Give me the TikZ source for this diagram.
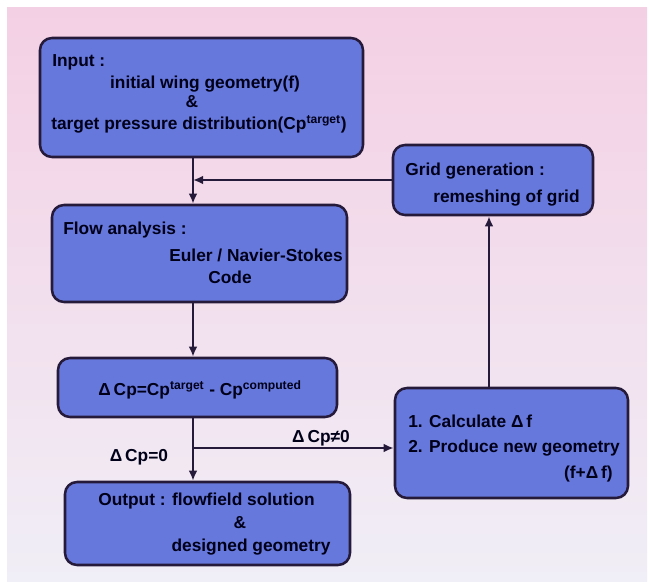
\documentclass[tikz,border=0pt]{standalone}
\usepackage{fontspec}
\setmainfont{Liberation Sans}
\usetikzlibrary{positioning,arrows.meta}
\definecolor{paper}{RGB}{244,208,228}
\definecolor{papermid}{RGB}{243,218,234}
\definecolor{paperlow}{RGB}{240,238,246}
\definecolor{boxblue}{RGB}{102,120,220}
\definecolor{boxline}{RGB}{38,26,58}

\begin{document}
\begin{tikzpicture}[x=0.75pt, y=-0.75pt,
  box/.style={draw=boxline, line width=1.9pt, fill=boxblue, rounded corners=9pt},
  txt/.style={font=\bfseries\fontsize{13}{15}\selectfont, inner sep=0pt, text=black!90!blue},
  link/.style={draw=boxline, line width=1.7pt, -{Latex[length=7.5pt,width=6.5pt]}},
  >=Latex
]
\useasboundingbox (0,0) rectangle (667,585);
\fill[white] (0,0) rectangle (667,585);
\shade[top color=paper, middle color=papermid, bottom color=paperlow] (7,8) rectangle (647,581);

% boxes
\node[box, minimum width=242.25pt, minimum height=89.25pt] (input) at (201.5,97.5) {};
\node[box, minimum width=221.25pt, minimum height=72.75pt] (flow) at (199.5,253.5) {};
\node[box, minimum width=150pt, minimum height=52.5pt] (grid) at (493,180) {};
\node[box, minimum width=209.25pt, minimum height=44.25pt] (dcp) at (197.5,387.5) {};
\node[box, minimum width=174.75pt, minimum height=82.5pt] (calc) at (511.5,443) {};
\node[box, minimum width=213.75pt, minimum height=62.25pt] (output) at (207.5,523.5) {};

% texts
\node[txt, anchor=base west] (inputtitle) at (52,67) {Input :};
\node[txt, anchor=base] (inputwing) at (205,89) {initial wing geometry(f)};
\node[txt, anchor=base] (inputand) at (192,108) {\&};
\node[txt, anchor=base] (inputcp) at (199,129) {target pressure distribution(Cp\textsuperscript{target})};

\node[txt, anchor=base west] (flowtitle) at (63,234) {Flow analysis :};
\node[txt, anchor=base] (flowcode) at (256,261) {Euler / Navier-Stokes};
\node[txt, anchor=base] (flowcode2) at (230,283) {Code};

\node[txt, anchor=base west] (gridtitle) at (405,175) {Grid generation :};
\node[txt, anchor=base west] (gridtext) at (433,202) {remeshing of grid};

\node[txt, anchor=base] (dcptext) at (200,395) {Δ\,Cp=Cp\textsuperscript{target} - Cp\textsuperscript{computed}};

\node[txt, anchor=base west] (calcone) at (408,427) {1. Calculate Δ\,f};
\node[txt, anchor=base west] (calctwo) at (408,452) {2. Produce new geometry};
\node[txt, anchor=base east] (calcthree) at (613,478) {(f+Δ\,f)};

\node[txt, anchor=base west] (outtitle) at (98,505) {Output : flowfield solution};
\node[txt, anchor=base] (outand) at (240,528) {\&};
\node[txt, anchor=base] (outgeo) at (251,551) {designed geometry};

% connectors
\coordinate (trunk) at (193,0);
\coordinate (fork) at (193,448);
\coordinate (back) at (489,0);
\draw[link] (trunk |- input.south) -- (trunk |- flow.north);
\draw[link] (grid.west) -- (trunk |- grid.west);
\draw[link] (trunk |- flow.south) -- (trunk |- dcp.north);
\draw[link] (trunk |- dcp.south) -- (trunk |- output.north);
\draw[link] (fork) -- (fork -| calc.west);
\draw[link] (back |- calc.north) -- (back |- grid.south);

\node[txt, anchor=base] (neqlabel) at (321,442) {Δ\,Cp≠0};
\node[txt, anchor=base] (eqlabel) at (139,461) {Δ\,Cp=0};
\end{tikzpicture}
\end{document}
